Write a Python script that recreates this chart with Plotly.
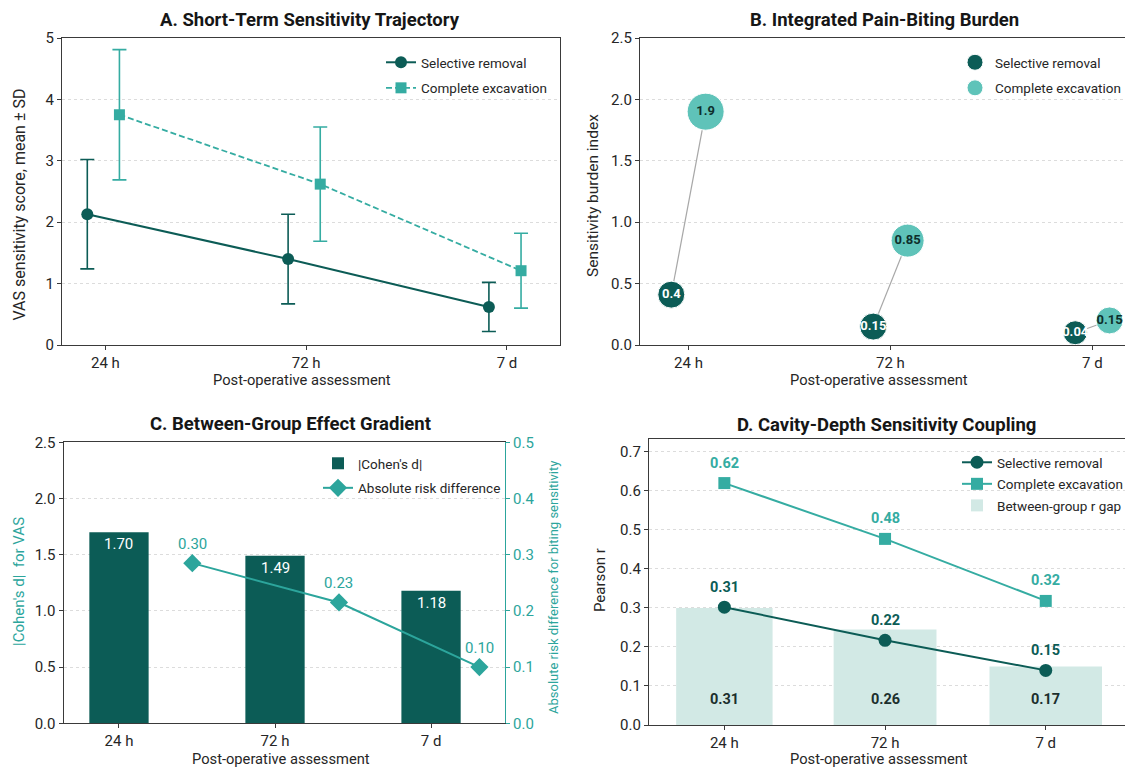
import plotly.graph_objects as go

W, H = 1133, 767

# ---------------- data ----------------
timepoints = ["24 h", "72 h", "7 d"]

# Panel A: VAS sensitivity (mean, SD)
vas_sel_mean = [2.13, 1.40, 0.62]
vas_sel_sd = [0.89, 0.73, 0.40]
vas_comp_mean = [3.75, 2.62, 1.21]
vas_comp_sd = [1.06, 0.93, 0.61]

# Panel B: sensitivity burden index
burden_sel = [0.41, 0.15, 0.10]
burden_sel_labels = ["0.4", "0.15", "0.04"]
burden_comp = [1.90, 0.85, 0.20]
burden_comp_labels = ["1.9", "0.85", "0.15"]

# Panel C: effect sizes
cohens_d = [1.70, 1.49, 1.18]
cohens_d_labels = ["1.70", "1.49", "1.18"]
risk_diff = [0.285, 0.215, 0.10]
risk_diff_labels = ["0.30", "0.23", "0.10"]

# Panel D: Pearson r
r_sel = [0.302, 0.217, 0.140]
r_sel_labels = ["0.31", "0.22", "0.15"]
r_comp = [0.620, 0.477, 0.318]
r_comp_labels = ["0.62", "0.48", "0.32"]
r_gap = [0.300, 0.245, 0.150]
r_gap_labels = ["0.31", "0.26", "0.17"]

# ---------------- style ----------------
FONT = "Roboto"
DARK = "#0c5c56"
TEAL = "#35aca2"
TEAL_B = "#5fc3b9"
TEAL_C = "#2ca59c"
LIGHT = "#d2e9e5"
AX = "#3a3a3a"
TXT = "#262626"
GRID = "#dcdcdc"

idx = list(range(len(timepoints)))
offA_sel, offA_comp = -0.09, 0.07
offB_sel, offB_comp = -0.085, 0.085
offC_line = [0.47, 0.41, 0.31]
barC_width = 0.38
barD_width = [0.60, 0.64, 0.70]

PAGE_OFF = 8  # the page body offsets the figure by 8 px


def px(x):
    return (x - PAGE_OFF) / W


def py(y):
    return 1 - (y - PAGE_OFF) / H


fig = go.Figure()

# ---------- Panel A ----------
fig.add_trace(go.Scatter(
    x=[i + offA_sel for i in idx], y=vas_sel_mean, mode="lines+markers",
    name="Selective removal", line=dict(color=DARK, width=2),
    marker=dict(symbol="circle", size=12, color=DARK),
    error_y=dict(type="data", array=vas_sel_sd, color=DARK, thickness=1.6, width=7),
    xaxis="x", yaxis="y", legend="legend", legendgroup="a1"))
fig.add_trace(go.Scatter(
    x=[i + offA_comp for i in idx], y=vas_comp_mean, mode="lines+markers",
    name="Complete excavation", line=dict(color=TEAL, width=1.8, dash="6px,3px"),
    marker=dict(symbol="square", size=11, color=TEAL),
    error_y=dict(type="data", array=vas_comp_sd, color=TEAL, thickness=1.6, width=7),
    xaxis="x", yaxis="y", legend="legend", legendgroup="a2"))

# ---------- Panel B ----------
cx, cy = [], []
for i in idx:
    cx += [i + offB_sel, i + offB_comp, None]
    cy += [burden_sel[i], burden_comp[i], None]
fig.add_trace(go.Scatter(x=cx, y=cy, mode="lines", line=dict(color="#a8a8a8", width=1.2),
                         showlegend=False, hoverinfo="skip", xaxis="x2", yaxis="y2"))
fig.add_trace(go.Scatter(
    x=[i + offB_sel for i in idx], y=burden_sel, mode="markers", name="Selective removal",
    marker=dict(size=[27, 27, 24], color=DARK, opacity=1),
    xaxis="x2", yaxis="y2", legend="legend2", legendgroup="b1"))
fig.add_trace(go.Scatter(
    x=[i + offB_comp for i in idx], y=burden_comp, mode="markers", name="Complete excavation",
    marker=dict(size=[37, 33, 27], color=TEAL_B, opacity=1),
    xaxis="x2", yaxis="y2", legend="legend2", legendgroup="b2"))
fig.add_trace(go.Scatter(
    x=[i + offB_sel for i in idx], y=burden_sel, mode="text", text=burden_sel_labels,
    textposition="middle center", textfont=dict(family=FONT, size=13, color="white", weight="bold"),
    showlegend=False, hoverinfo="skip", xaxis="x2", yaxis="y2"))
fig.add_trace(go.Scatter(
    x=[i + offB_comp for i in idx], y=burden_comp, mode="text", text=burden_comp_labels,
    textposition="middle center", textfont=dict(family=FONT, size=13, color="#0e2f2c", weight="bold"),
    showlegend=False, hoverinfo="skip", xaxis="x2", yaxis="y2"))

# ---------- Panel C ----------
fig.add_trace(go.Bar(
    x=idx, y=cohens_d, width=barC_width, name="|Cohen's d|", marker=dict(color=DARK, line=dict(width=0)),
    xaxis="x3", yaxis="y3", legend="legend3", legendgroup="c1"))
fig.add_trace(go.Scatter(
    x=[i + offC_line[i] for i in idx], y=risk_diff, mode="lines+markers",
    name="Absolute risk difference", line=dict(color=TEAL_C, width=2),
    marker=dict(symbol="diamond", size=14, color=TEAL_C),
    xaxis="x3", yaxis="y5", legend="legend3", legendgroup="c2"))

# ---------- Panel D ----------
fig.add_trace(go.Bar(
    x=idx, y=r_gap, width=barD_width, name="Between-group r gap",
    marker=dict(color=LIGHT, line=dict(width=0)), legendrank=3,
    xaxis="x4", yaxis="y4", legend="legend4", legendgroup="d3"))
fig.add_trace(go.Scatter(
    x=idx, y=r_sel, mode="lines+markers", name="Selective removal",
    line=dict(color=DARK, width=2), marker=dict(symbol="circle", size=13, color=DARK), legendrank=1,
    xaxis="x4", yaxis="y4", legend="legend4", legendgroup="d1"))
fig.add_trace(go.Scatter(
    x=idx, y=r_comp, mode="lines+markers", name="Complete excavation",
    line=dict(color=TEAL, width=2), marker=dict(symbol="square", size=12, color=TEAL), legendrank=2,
    xaxis="x4", yaxis="y4", legend="legend4", legendgroup="d2"))

annotations = []
for i in idx:
    annotations.append(dict(x=i, y=cohens_d[i], xref="x3", yref="y3", text=cohens_d_labels[i],
                            showarrow=False, yshift=-12,
                            font=dict(family=FONT, size=15, color="white")))
    annotations.append(dict(x=i + offC_line[i], y=risk_diff[i], xref="x3", yref="y5",
                            text=risk_diff_labels[i], showarrow=False, yshift=19,
                            font=dict(family=FONT, size=15, color=TEAL_C)))
    annotations.append(dict(x=i, y=r_comp[i], xref="x4", yref="y4", text=r_comp_labels[i],
                            showarrow=False, yshift=20,
                            font=dict(family=FONT, size=14.5, color=TEAL, weight="bold")))
    annotations.append(dict(x=i, y=r_sel[i], xref="x4", yref="y4", text=r_sel_labels[i],
                            showarrow=False, yshift=20,
                            font=dict(family=FONT, size=14.5, color=DARK, weight="bold")))
    annotations.append(dict(x=i, y=0, xref="x4", yref="y4", text=r_gap_labels[i],
                            showarrow=False, yshift=26,
                            font=dict(family=FONT, size=14.5, color="#1c2f2d", weight="bold")))

# titles
for t, x, y in [("A. Short-Term Sensitivity Trajectory", 310, 20),
                ("B. Integrated Pain-Biting Burden", 884, 20),
                ("C. Between-Group Effect Gradient", 290, 424),
                ("D. Cavity-Depth Sensitivity Coupling", 886, 425)]:
    annotations.append(dict(x=px(x), y=py(y), xref="paper", yref="paper", text=t, showarrow=False,
                            xanchor="center", yanchor="middle",
                            font=dict(family=FONT, size=18.5, color="#161616", weight="bold")))


def axtitle(text, x, y, angle=0, color=TXT, size=14.7):
    annotations.append(dict(x=px(x), y=py(y), xref="paper", yref="paper", text=text, showarrow=False,
                            xanchor="center", yanchor="middle", textangle=angle,
                            font=dict(family=FONT, size=size, color=color)))


axtitle("Post-operative assessment", 302, 380)
axtitle("Post-operative assessment", 879, 380)
axtitle("Post-operative assessment", 281, 759)
axtitle("Post-operative assessment", 879, 759)
axtitle("VAS sensitivity score, mean ± SD", 19.5, 205, -90, size=16)
axtitle("Sensitivity burden index", 593, 196, -90, size=15.5)
axtitle("|Cohen's d|  for VAS", 19, 582, -90, TEAL_C, 15)
axtitle("Absolute risk difference for biting sensitivity", 553, 588, -90, TEAL_C, 13)
axtitle("Pearson r", 600, 580, -90, size=15)

tickfont = dict(family=FONT, size=15, color=TXT)


def xax(domain, rng):
    return dict(domain=domain, range=rng, tickvals=idx, ticktext=timepoints, showline=True,
                linecolor=AX, linewidth=1.2, mirror=True, ticks="outside", ticklen=4,
                tickcolor=AX, tickfont=tickfont, showgrid=False, zeroline=False, fixedrange=True,
                automargin=False)


def yax(domain, rng, dtick, fmt, mirror=True):
    return dict(domain=domain, range=rng, dtick=dtick, tick0=0, tickformat=fmt, showline=True,
                linecolor=AX, linewidth=1.2, mirror=mirror, ticks="outside", ticklen=4,
                tickcolor=AX, tickfont=tickfont, showgrid=True, gridcolor=GRID, griddash="dot",
                gridwidth=1, zeroline=False, fixedrange=True, automargin=False)


layout = dict(
    width=W, height=H, margin=dict(l=0, r=0, t=0, b=0, autoexpand=False),
    paper_bgcolor="white", plot_bgcolor="white",
    font=dict(family=FONT, size=14, color=TXT),
    barmode="overlay",
    xaxis=dict(xax([px(62), px(560)], [-0.216, 2.264]), anchor="y"),
    yaxis=dict(yax([py(345), py(38)], [0, 5], 1, "d"), anchor="x"),
    xaxis2=dict(xax([px(640), px(1133)], [-0.24, 2.201]), anchor="y2"),
    yaxis2=dict(yax([py(345), py(38)], [0, 2.5], 0.5, ".1f"), anchor="x2"),
    xaxis3=dict(xax([px(63.6), px(505)], [-0.355, 2.474]), anchor="y3"),
    yaxis3=dict(yax([py(723.3), py(442.3)], [0, 2.5], 0.5, ".1f", mirror=False), anchor="x3"),
    yaxis5=dict(overlaying="y3", side="right", anchor="x3", range=[0, 0.5], dtick=0.1, tick0=0,
                tickformat=".1f", showline=True, linecolor=TEAL_C, linewidth=1.2, ticks="outside",
                ticklen=4, tickcolor=TEAL_C, tickfont=dict(family=FONT, size=15, color=TEAL_C),
                showgrid=False, zeroline=False, fixedrange=True, automargin=False),
    xaxis4=dict(xax([px(649), px(1133)], [-0.469, 2.543]), anchor="y4"),
    yaxis4=dict(yax([py(725), py(439)], [0, 0.733], 0.1, ".1f"), anchor="x4"),
    annotations=annotations,
)

legfont = dict(family=FONT, size=13.5, color=TXT)
for name, x, y, gap in [("legend", 381, 47, 5), ("legend2", 955, 47, 5),
                        ("legend3", 318, 448, 4), ("legend4", 957, 447, 1)]:
    layout[name] = dict(x=px(x), y=py(y), xanchor="left", yanchor="top", bgcolor="rgba(0,0,0,0)",
                        borderwidth=0, font=legfont, tracegroupgap=gap, traceorder="grouped")

fig.update_layout(**layout)
fig.write_html("out.html")
